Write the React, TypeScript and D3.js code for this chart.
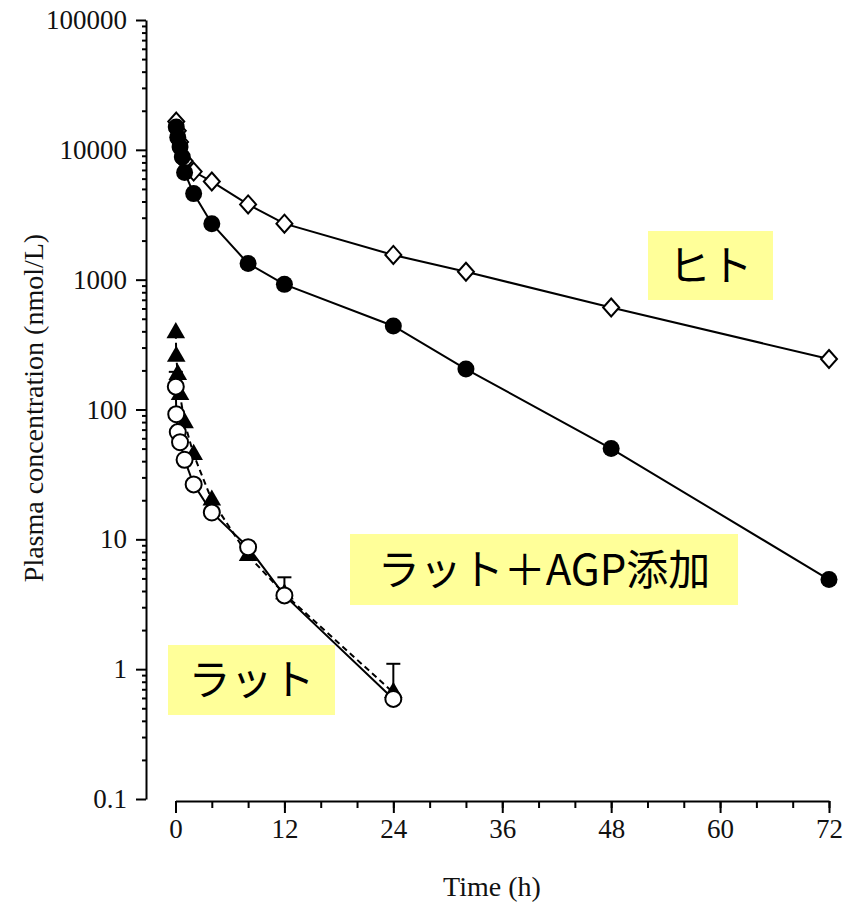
import React, { useEffect, useRef } from "react";
import * as d3 from "d3";

// human, open diamonds
const humanDiaTimes = [0.083, 0.25, 0.5, 1, 2, 4, 8, 12, 24, 32, 48, 72];
const humanDiaConc = [16500, 14000, 11500, 8200, 6800, 5700, 3800, 2700, 1550, 1150, 610, 245];

// human, filled circles
const humanDotTimes = [0.083, 0.25, 0.5, 0.75, 1, 2, 4, 8, 12, 24, 32, 48, 72];
const humanDotConc = [15000, 12500, 10500, 8800, 6700, 4600, 2700, 1330, 920, 440, 205, 50, 4.9];

// rat, open circles (solid line)
const ratTimes = [0.033, 0.083, 0.25, 0.5, 1, 2, 4, 8, 12, 24];
const ratConc = [150, 92, 67, 56, 41, 26.5, 16.1, 8.7, 3.7, 0.59];
const ratUpper = [195, null, null, null, null, null, null, null, 5.1, 1.1];

// rat + AGP, filled triangles (dashed line)
const agpTimes = [0.033, 0.083, 0.25, 0.5, 1, 2, 4, 8, 12, 24];
const agpConc = [390, 256, 186, 130, 79, 45, 20, 7.5, 3.8, 0.66];

const xTicks = [0, 12, 24, 36, 48, 60, 72];
const xMinor = d3.range(0, 73, 4);
const yTicks = [0.1, 1, 10, 100, 1000, 10000, 100000];

const labels = [
  { text: "ヒト", x: 648, y: 231, w: 125, h: 69 },
  { text: "ラット＋AGP添加", x: 350, y: 534, w: 388, h: 71 },
  { text: "ラット", x: 168, y: 645, w: 167, h: 70 },
];

const serif = "'Liberation Serif', 'DejaVu Serif', serif";

const App = () => {
  const ref = useRef<SVGSVGElement>(null);

  const x = d3.scaleLinear().domain([0, 72]).range([175.5, 829]);
  const y = d3.scaleLog().domain([0.1, 100000]).range([799, 20]);

  useEffect(() => {
    const svg = d3.select(ref.current);
    svg.select(".axes").remove();
    const g = svg.insert("g", ":first-child").attr("class", "axes");

    const yMinor: number[] = [];
    yTicks.slice(0, -1).forEach((t) => {
      for (let k = 2; k <= 9; k++) yMinor.push(t * k);
    });

    const yAxis = g.append("g").attr("transform", "translate(146,0)");
    yAxis.call(
      d3.axisLeft(y).tickValues(yTicks).tickSize(10).tickSizeOuter(0).tickPadding(9)
        .tickFormat((d) => String(d))
    );
    yAxis.append("g").call(
      d3.axisLeft(y).tickValues(yMinor).tickSize(4).tickSizeOuter(0).tickFormat(() => "")
    ).select(".domain").remove();

    const xAxis = g.append("g").attr("transform", "translate(0,801)");
    xAxis.call(
      d3.axisBottom(x).tickValues(xTicks).tickSize(12).tickSizeOuter(0).tickPadding(6)
        .tickFormat((d) => String(d))
    );
    xAxis.append("g").call(
      d3.axisBottom(x).tickValues(xMinor).tickSize(7).tickSizeOuter(0).tickFormat(() => "")
    ).select(".domain").remove();

    g.selectAll("path, line").attr("stroke", "#000").attr("stroke-width", 2);
    g.selectAll("text").attr("font-family", serif).attr("font-size", 27).attr("fill", "#111");
  }, []);

  const line = (ts: number[], vs: number[]) =>
    d3.line<number>().x((_, i) => x(ts[i])).y((v) => y(v))(vs) || "";

  const tri = d3.symbol().type(d3.symbolTriangle).size(150)() || "";
  const dia = "M0,-9L8,0L0,9L-8,0Z";

  return (
    <svg ref={ref} width={852} height={908}
      style={{ position: "absolute", left: 0, top: 0, background: "#fff" }}>
      {/* lines */}
      <path d={line(humanDiaTimes, humanDiaConc)} fill="none" stroke="#000" strokeWidth={2} />
      <path d={line(humanDotTimes, humanDotConc)} fill="none" stroke="#000" strokeWidth={2} />
      <path d={line(agpTimes, agpConc)} fill="none" stroke="#000" strokeWidth={2} strokeDasharray="6,4" />
      <path d={line(ratTimes, ratConc)} fill="none" stroke="#000" strokeWidth={2} />

      {/* error bars */}
      {ratUpper.map((u, i) =>
        u == null ? null : (
          <g key={"e" + i} stroke="#000" strokeWidth={2}>
            <line x1={x(ratTimes[i])} x2={x(ratTimes[i])} y1={y(ratConc[i])} y2={y(u)} />
            <line x1={x(ratTimes[i]) - 7} x2={x(ratTimes[i]) + 7} y1={y(u)} y2={y(u)} />
          </g>
        )
      )}

      {/* markers */}
      {humanDiaConc.map((v, i) => (
        <path key={"hi" + i} d={dia} transform={`translate(${x(humanDiaTimes[i])},${y(v)})`}
          fill="#fff" stroke="#000" strokeWidth={2} />
      ))}
      {humanDotConc.map((v, i) => (
        <circle key={"hd" + i} cx={x(humanDotTimes[i])} cy={y(v)} r={8.5} fill="#000" />
      ))}
      {agpConc.map((v, i) => (
        <path key={"a" + i} d={tri} transform={`translate(${x(agpTimes[i])},${y(v)})`} fill="#000" />
      ))}
      {ratConc.map((v, i) => (
        <circle key={"r" + i} cx={x(ratTimes[i])} cy={y(v)} r={8} fill="#fff" stroke="#000" strokeWidth={2} />
      ))}

      {/* axis titles */}
      <text x={492} y={896} textAnchor="middle" fontFamily={serif} fontSize={28} fill="#111">Time (h)</text>
      <text transform="translate(43,408) rotate(-90)" textAnchor="middle" fontFamily={serif} fontSize={28} fill="#111">
        Plasma concentration (nmol/L)
      </text>

      {/* labels */}
      {labels.map((l) => (
        <g key={l.text}>
          <rect x={l.x} y={l.y} width={l.w} height={l.h} fill="#ffff99" />
          <text x={l.x + l.w / 2} y={l.y + l.h / 2 + 15} textAnchor="middle"
            fontFamily="'Noto Sans CJK JP', 'Noto Sans', sans-serif" fontSize={42} fill="#000">
            {l.text}
          </text>
        </g>
      ))}
    </svg>
  );
};

export default App;
